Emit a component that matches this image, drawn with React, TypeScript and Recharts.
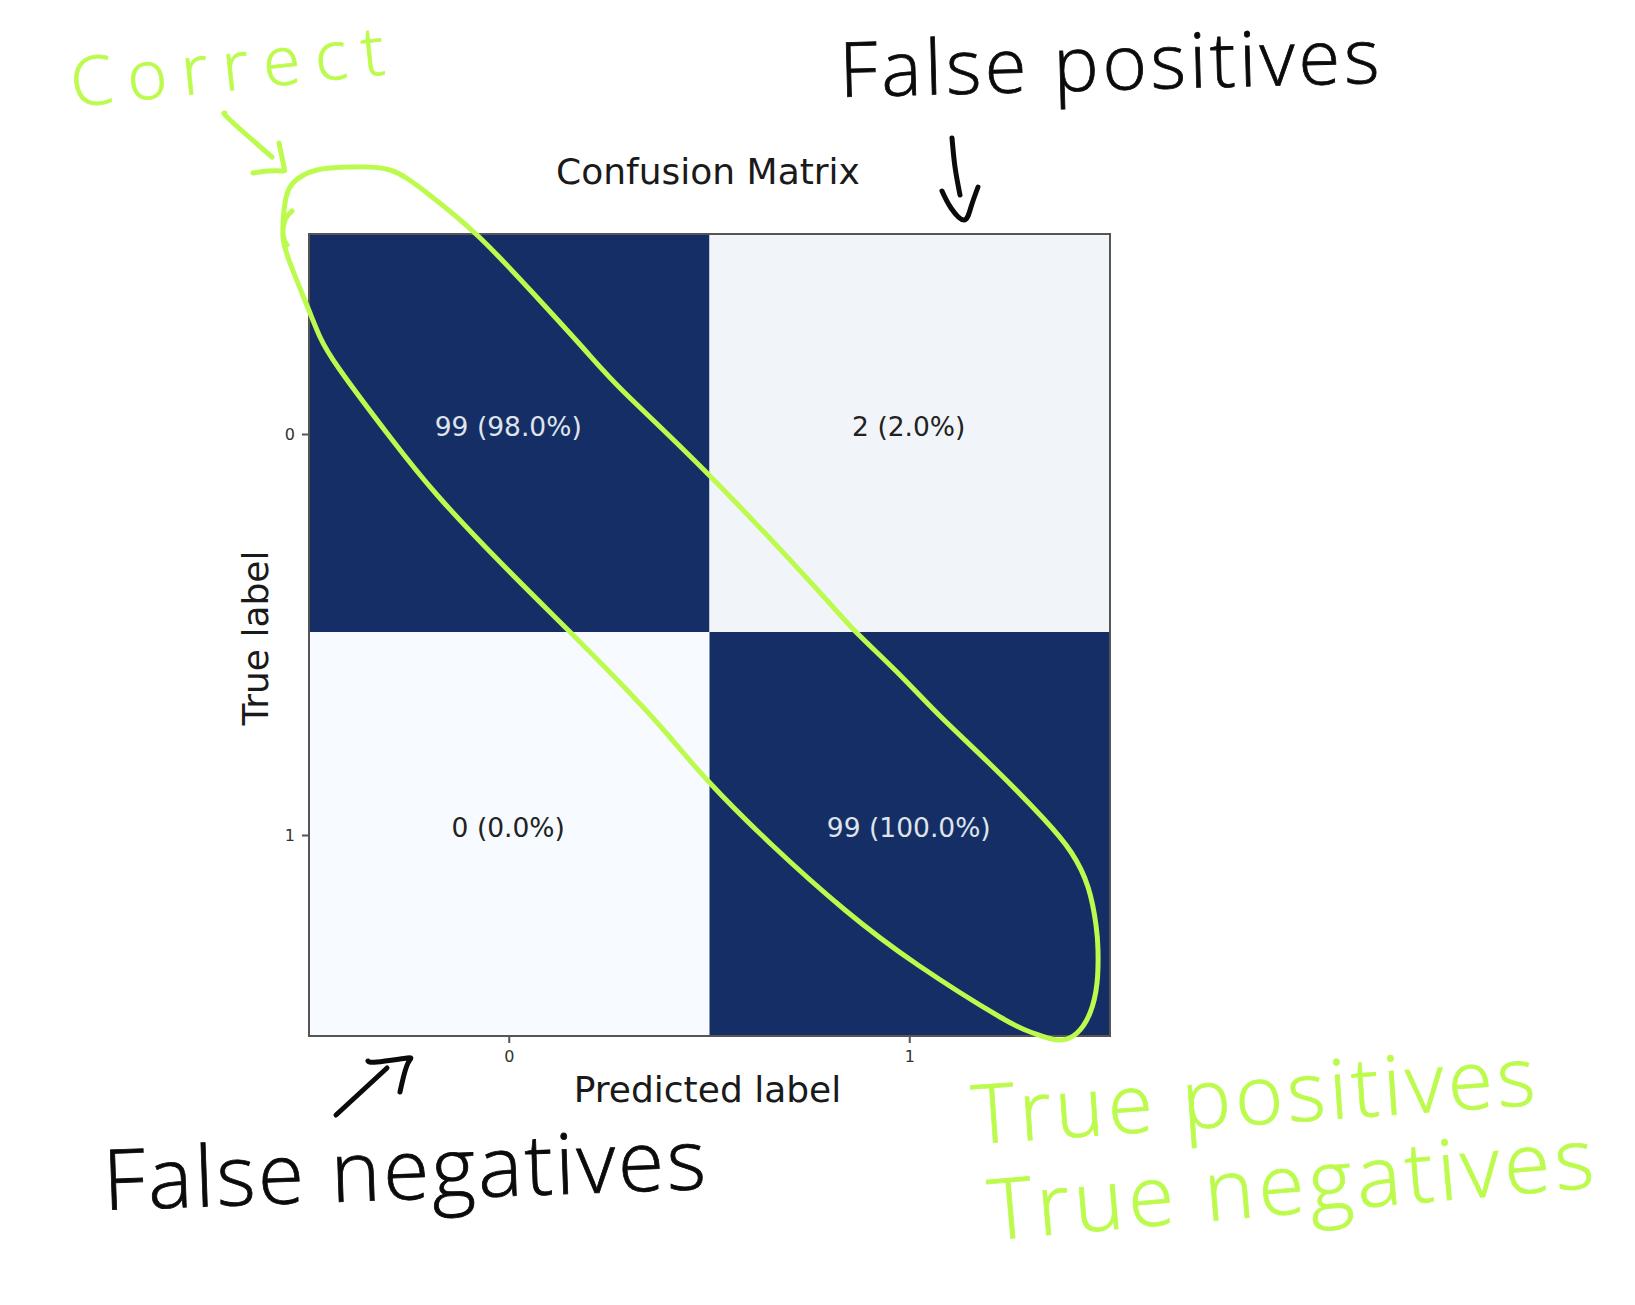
import { ScatterChart, Scatter, XAxis, YAxis, ReferenceArea, Label, Curve } from "recharts"

const predictedLabels = [0, 1]
const trueLabels = [0, 1]
const counts = [
  [99, 2],
  [0, 99],
]
const shares = [
  ["98.0%", "2.0%"],
  ["0.0%", "100.0%"],
]
const cellColors = [
  ["#152f66", "#f1f5fa"],
  ["#f7fbff", "#152f66"],
]
// the row split in the picture sits slightly above the halfway point
const columnEdges = [-0.5, 0.5, 1.5]
const rowEdges = [-0.5, 0.4925, 1.5]

const cells = trueLabels.flatMap((row) =>
  predictedLabels.map((col) => ({
    col,
    row,
    text: `${counts[row][col]} (${shares[row][col]})`,
    dark: col === row,
  }))
)

const LIME = "#bcfb4e"
const INK = "#0b0b0b"
const FONT = "'DejaVu Sans', sans-serif"
const HAND = "'Open Sans', sans-serif"

// hand drawn annotations in page pixels
const toPoints = (pairs: number[][]) => pairs.map(([x, y]) => ({ x, y }))
const loop = toPoints([
  [292, 211], [285, 220], [283, 237], [290, 263], [308, 308], [320, 337], [340, 370], [390, 437],
  [438, 496], [501, 563], [569, 631], [626, 689], [668, 735], [709, 782], [772, 845], [845, 910],
  [918, 965], [1000, 1017], [1033, 1033], [1058, 1040], [1077, 1033], [1090, 1013], [1097, 983],
  [1098, 950], [1096, 925], [1088, 887], [1071, 852], [1043, 818], [991, 765], [939, 715],
  [897, 672], [855, 631], [814, 586], [709, 475], [626, 394], [584, 349], [532, 292], [477, 235],
  [427, 193], [390, 170], [353, 167], [317, 170], [293, 183], [285, 203], [283, 233], [287, 245],
])
const limeStrokes = [
  loop,
  toPoints([[225, 113], [230, 120], [272, 157]]),
  toPoints([[279, 143], [284, 167], [282, 171], [268, 171], [253, 173]]),
]
const inkStrokes = [
  toPoints([[952, 138], [955, 167], [960, 195]]),
  toPoints([[942, 191], [951, 208], [964, 220], [971, 207], [978, 187]]),
  toPoints([[336, 1115], [387, 1068]]),
  toPoints([[368, 1061], [377, 1062], [407, 1058], [408, 1063], [402, 1083], [400, 1092]]),
]
const notes = [
  { text: "Correct", x: 73, y: 107, angle: -6, size: 68, length: 315, color: LIME },
  { text: "False positives", x: 840, y: 97, angle: -1.5, size: 76, length: 540, color: INK },
  { text: "False negatives", x: 104, y: 1210, angle: -2, size: 84, length: 603, color: INK },
  { text: "True positives", x: 974, y: 1144, angle: -4, size: 82, length: 564, color: LIME },
  { text: "True negatives", x: 991, y: 1240, angle: -5, size: 84, length: 607, color: LIME },
]

const CellText = ({ cx, cy, payload }: any) => (
  <text
    x={cx - 1}
    y={cy - 8}
    textAnchor="middle"
    dominantBaseline="central"
    fontFamily={FONT}
    fontSize={26.5}
    fill={payload.dark ? "#dfe4ec" : "#222222"}
  >
    {payload.text}
  </text>
)

export default function App() {
  return (
    <div style={{ position: "absolute", left: 0, top: 0, width: 1635, height: 1305, background: "#fff" }}>
      <ScatterChart width={1635} height={1305} margin={{ top: 234, right: 525, bottom: 0, left: 0 }}>
        <XAxis
          type="number"
          dataKey="col"
          domain={[-0.5, 1.5]}
          ticks={predictedLabels}
          height={269}
          stroke="#555555"
          strokeWidth={2}
          tickSize={7}
          tickMargin={8}
          tick={{ fontFamily: FONT, fontSize: 16, fill: "#333333" }}
        >
          <Label
            value="Predicted label"
            position="insideTop"
            offset={40}
            dx={-2}
            style={{ fontFamily: FONT, fontSize: 36, fill: "#1a1a1a" }}
          />
        </XAxis>
        <YAxis
          type="number"
          dataKey="row"
          reversed
          domain={[-0.5, 1.5]}
          ticks={trueLabels}
          width={309}
          stroke="#555555"
          strokeWidth={2}
          tickSize={7}
          tickMargin={7}
          tick={{ fontFamily: FONT, fontSize: 16, fill: "#333333" }}
        >
          <Label
            value="True label"
            angle={-90}
            position="center"
            dx={101}
            dy={3}
            style={{ fontFamily: FONT, fontSize: 36, fill: "#1a1a1a" }}
          />
        </YAxis>
        {cells.map((c) => (
          <ReferenceArea
            key={`${c.row}-${c.col}`}
            x1={columnEdges[c.col]}
            x2={columnEdges[c.col + 1]}
            y1={rowEdges[c.row]}
            y2={rowEdges[c.row + 1]}
            fill={cellColors[c.row][c.col]}
            fillOpacity={1}
            stroke="none"
          />
        ))}
        <ReferenceArea x1={-0.5} x2={1.5} y1={-0.5} y2={1.5} fill="none" stroke="#555555" strokeWidth={2} />
        <Scatter data={cells} shape={CellText} isAnimationActive={false} />
        <text x={708} y={171} textAnchor="middle" dominantBaseline="central" fontFamily={FONT} fontSize={36} fill="#1a1a1a">
          Confusion Matrix
        </text>
      </ScatterChart>
      {/* annotations sit on a second svg so the loop stays above the cells */}
      <svg width={1635} height={1305} style={{ position: "absolute", left: 0, top: 0, pointerEvents: "none" }}>
        {limeStrokes.map((points, i) => (
          <Curve key={`lime-${i}`} type="natural" points={points} fill="none" stroke={LIME} strokeWidth={5} strokeLinecap="round" />
        ))}
        {inkStrokes.map((points, i) => (
          <Curve key={`ink-${i}`} type="natural" points={points} fill="none" stroke={INK} strokeWidth={5} strokeLinecap="round" />
        ))}
        {notes.map((n) => (
          <text
            key={n.text}
            x={n.x}
            y={n.y}
            transform={`rotate(${n.angle} ${n.x} ${n.y})`}
            fontFamily={HAND}
            fontWeight={300}
            fontSize={n.size}
            fill={n.color}
            stroke={n.color}
            strokeWidth={0.8}
            textLength={n.length}
            lengthAdjust="spacing"
          >
            {n.text}
          </text>
        ))}
      </svg>
    </div>
  )
}
